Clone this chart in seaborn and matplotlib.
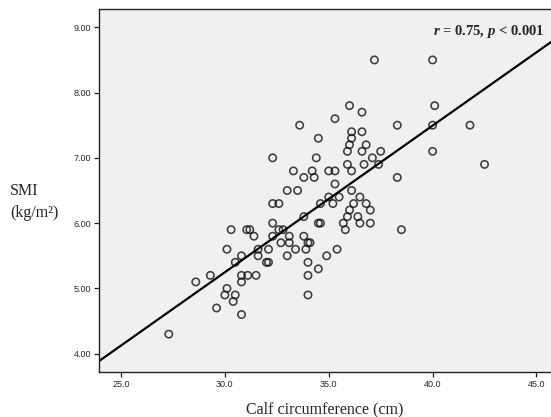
import matplotlib
matplotlib.use("Agg")
import matplotlib.pyplot as plt
import seaborn as sns
import pandas as pd
import numpy as np

calf = [37.2, 40.0, 36.0, 36.6, 35.3, 33.6, 40.1, 38.3, 40.0, 41.8,
        34.5, 36.1, 36.1, 36.6, 36.0, 35.9, 36.8, 36.6, 37.5, 40.0,
        32.3, 34.4, 37.1, 35.9, 36.7, 37.4, 42.5, 33.3, 34.2, 35.0,
        35.3, 36.1, 33.8, 34.3, 38.3, 33.0, 33.5, 35.3, 36.1, 35.0,
        35.5, 36.5, 32.3, 32.6, 34.6, 35.2, 36.2, 36.8, 36.0, 37.0,
        33.8, 35.9, 36.4, 32.3, 34.5, 34.6, 35.7, 36.5, 37.0, 30.3,
        31.05, 31.2, 32.6, 32.8, 35.8, 38.5, 31.4, 32.3, 33.1, 33.8,
        32.7, 33.1, 34.0, 34.1, 30.1, 31.6, 32.1, 33.4, 33.9, 35.4,
        30.8, 31.6, 33.0, 34.9, 30.5, 32.0, 32.1, 34.0, 34.5, 28.6,
        29.3, 30.8, 31.1, 31.5, 34.0, 30.8, 30.1, 30.0, 30.5, 30.4,
        34.0, 29.6, 30.8, 27.3]
smi = [8.5, 8.5, 7.8, 7.7, 7.6, 7.5, 7.8, 7.5, 7.5, 7.5,
       7.3, 7.4, 7.3, 7.4, 7.2, 7.1, 7.2, 7.1, 7.1, 7.1,
       7.0, 7.0, 7.0, 6.9, 6.9, 6.9, 6.9, 6.8, 6.8, 6.8,
       6.8, 6.8, 6.7, 6.7, 6.7, 6.5, 6.5, 6.6, 6.5, 6.4,
       6.4, 6.4, 6.3, 6.3, 6.3, 6.3, 6.3, 6.3, 6.2, 6.2,
       6.1, 6.1, 6.1, 6.0, 6.0, 6.0, 6.0, 6.0, 6.0, 5.9,
       5.9, 5.9, 5.9, 5.9, 5.9, 5.9, 5.8, 5.8, 5.8, 5.8,
       5.7, 5.7, 5.7, 5.7, 5.6, 5.6, 5.6, 5.6, 5.6, 5.6,
       5.5, 5.5, 5.5, 5.5, 5.4, 5.4, 5.4, 5.4, 5.3, 5.1,
       5.2, 5.2, 5.2, 5.2, 5.2, 5.1, 5.0, 4.9, 4.9, 4.8,
       4.9, 4.7, 4.6, 4.3]

x_ticks = [25.0, 30.0, 35.0, 40.0, 45.0]
y_ticks = [4.0, 5.0, 6.0, 7.0, 8.0, 9.0]
annotation = "$r$ = 0.75, $p$ < 0.001"

df = pd.DataFrame({"calf": calf, "smi": smi})

sns.set_style("ticks")
plt.rcParams["mathtext.fontset"] = "custom"
plt.rcParams["mathtext.rm"] = "Liberation Serif:bold"
plt.rcParams["mathtext.it"] = "Liberation Serif:italic:bold"

fig = plt.figure(figsize=(5.51, 4.17), dpi=100)
ax = fig.add_axes([99 / 551, 1 - 372 / 417, 452 / 551, 363 / 417])
ax.set_facecolor("#eff0f2")
ax.set_xlim(23.94, 45.7)
ax.set_ylim(3.72, 9.28)

sns.regplot(data=df, x="calf", y="smi", ax=ax, ci=None, truncate=False,
            scatter_kws=dict(s=28, facecolors="none", edgecolors="#111111", linewidths=1.15),
            line_kws=dict(color="black", lw=1.6))

ax.set_xlim(23.94, 45.7)
ax.set_ylim(3.72, 9.28)
ax.set_xticks(x_ticks)
ax.set_xticklabels([f"{v:.1f}" for v in x_ticks], fontsize=6.5, family="Liberation Sans")
ax.set_yticks(y_ticks)
ax.set_yticklabels([f"{v:.2f}" for v in y_ticks], fontsize=6.5, family="Liberation Sans")
ax.tick_params(direction="out", length=3.5, width=0.9, color="#222222", pad=2)
for side in ["left", "bottom", "top"]:
    ax.spines[side].set_visible(True)
    ax.spines[side].set_color("#222222")
    ax.spines[side].set_linewidth(1.0)
ax.spines["right"].set_visible(False)

ax.set_xlabel("Calf circumference (cm)", family="Liberation Serif", fontsize=11.5, labelpad=9)
ax.set_ylabel("")
fig.text(10 / 551, 1 - 202 / 417, "SMI\n(kg/m²)", family="Liberation Serif", fontsize=11.5,
         ha="left", va="center", linespacing=1.55)

ax.text(0.985, 0.962, annotation, transform=ax.transAxes, ha="right", va="top",
        family="Liberation Serif", fontweight="bold", fontsize=10.5)

fig.savefig("out.png", dpi=100)
